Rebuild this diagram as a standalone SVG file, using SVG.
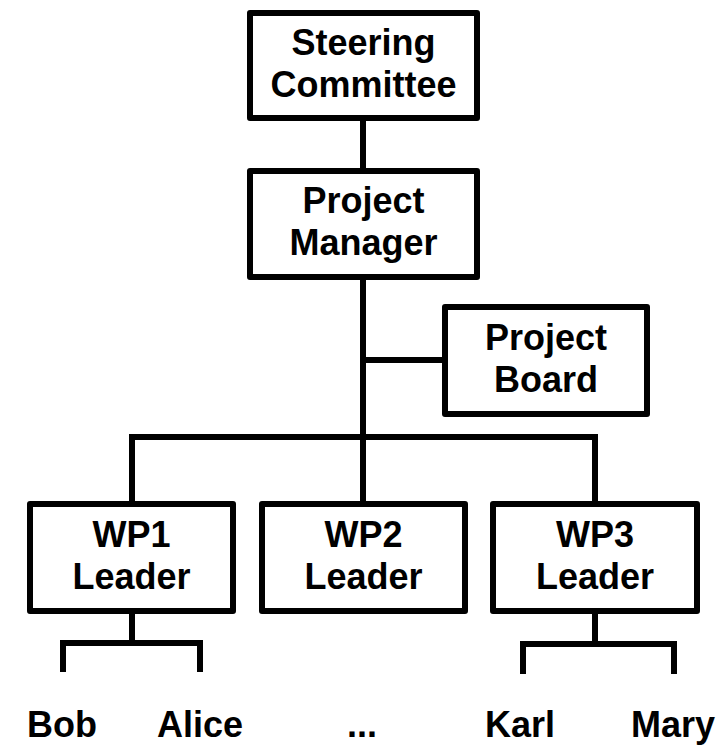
<svg xmlns="http://www.w3.org/2000/svg" width="723" height="746" viewBox="0 0 723 746">
  <style>
    .box { fill: #fff; stroke: #000; stroke-width: 6; stroke-linejoin: round; }
    .wire { fill: none; stroke: #000; stroke-width: 6; stroke-linejoin: miter; }
    text { font-family: "Liberation Sans", Arial, Helvetica, sans-serif; font-weight: bold; font-size: 36px; fill: #000; text-anchor: middle; }
  </style>
  <rect width="723" height="746" fill="#fff"/>

  <!-- connectors -->
  <g id="connectors">
    <path class="wire" d="M363 118 V171"/>
    <path class="wire" d="M363 277 V437"/>
    <path class="wire" d="M363 360 H445"/>
    <path class="wire" d="M132 504 V437 H595 V504"/>
    <path class="wire" d="M363 437 V504"/>
    <path class="wire" d="M132 611 V643"/>
    <path class="wire" d="M63 672 V643 H200 V672"/>
    <path class="wire" d="M595 611 V644"/>
    <path class="wire" d="M523 674 V644 H674 V674"/>
  </g>

  <g id="steering-committee">
    <rect class="box" x="250" y="13" width="227" height="105"/>
    <text x="363.5" y="55">Steering</text>
    <text x="363.5" y="97">Committee</text>
  </g>

  <g id="project-manager">
    <rect class="box" x="250" y="171" width="227" height="106"/>
    <text x="363.5" y="213">Project</text>
    <text x="363.5" y="255">Manager</text>
  </g>

  <g id="project-board">
    <rect class="box" x="445" y="307" width="202" height="107"/>
    <text x="546" y="350">Project</text>
    <text x="546" y="392">Board</text>
  </g>

  <g id="wp1-leader">
    <rect class="box" x="30" y="504" width="203" height="107"/>
    <text x="131.5" y="547">WP1</text>
    <text x="131.5" y="589">Leader</text>
  </g>

  <g id="wp2-leader">
    <rect class="box" x="262" y="504" width="203" height="107"/>
    <text x="363.5" y="547">WP2</text>
    <text x="363.5" y="589">Leader</text>
  </g>

  <g id="wp3-leader">
    <rect class="box" x="493" y="504" width="204" height="107"/>
    <text x="595" y="547">WP3</text>
    <text x="595" y="589">Leader</text>
  </g>

  <g id="members">
    <text x="62" y="737">Bob</text>
    <text x="200" y="737">Alice</text>
    <text x="362" y="737">...</text>
    <text x="520" y="737">Karl</text>
    <text x="673" y="737">Mary</text>
  </g>
</svg>
